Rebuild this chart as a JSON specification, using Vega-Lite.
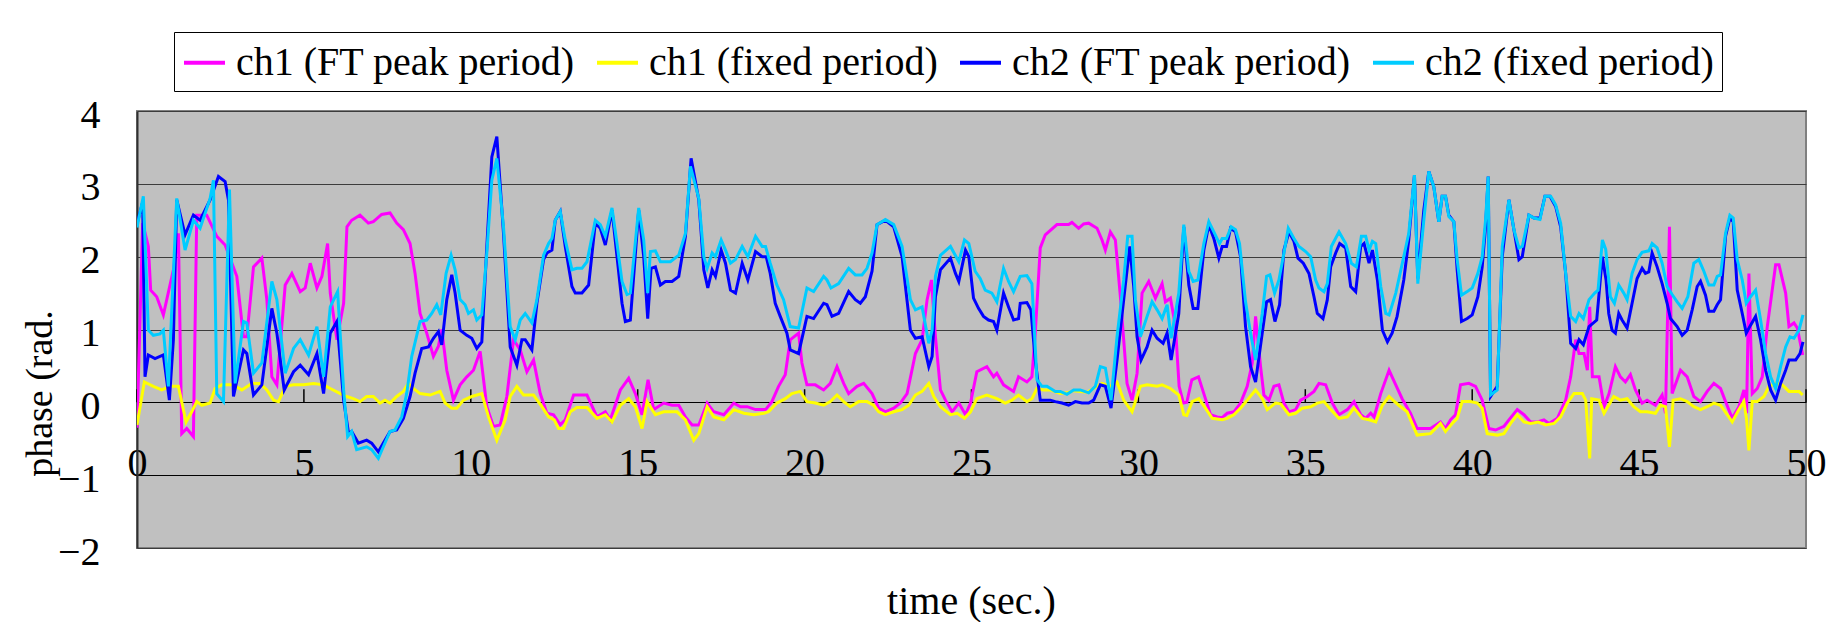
{
"$schema":"https://vega.github.io/schema/vega-lite/v6.json",
"autosize":"none",
"width":1669,"height":437,
"padding":{"left":137,"top":111,"right":32,"bottom":74},
"background":"white",
"config":{"view":{"fill":"#C0C0C0","stroke":"#808080","strokeWidth":2}},
"datasets":{
"a":[{"t":0,"v":-0.35},{"t":0.17,"v":2.46},{"t":0.34,"v":2.14},{"t":0.41,"v":1.54},{"t":0.59,"v":1.45},{"t":0.79,"v":1.2},{"t":1.09,"v":1.82},{"t":1.24,"v":2.32},{"t":1.34,"v":-0.43},{"t":1.49,"v":-0.36},{"t":1.69,"v":-0.47},{"t":1.79,"v":2.57},{"t":2.09,"v":2.57},{"t":2.39,"v":2.28},{"t":2.64,"v":2.16},{"t":2.99,"v":1.73},{"t":3.19,"v":0.9},{"t":3.29,"v":0.9},{"t":3.49,"v":1.86},{"t":3.74,"v":1.98},{"t":3.89,"v":1.41},{"t":4.04,"v":0.35},{"t":4.19,"v":0.24},{"t":4.44,"v":1.61},{"t":4.64,"v":1.77},{"t":4.89,"v":1.52},{"t":5.04,"v":1.57},{"t":5.19,"v":1.91},{"t":5.39,"v":1.57},{"t":5.54,"v":1.73},{"t":5.71,"v":2.18},{"t":5.79,"v":1.5},{"t":5.99,"v":0.86},{"t":6.19,"v":1.36},{"t":6.29,"v":2.41},{"t":6.43,"v":2.5},{"t":6.68,"v":2.57},{"t":6.93,"v":2.46},{"t":7.08,"v":2.48},{"t":7.33,"v":2.58},{"t":7.58,"v":2.6},{"t":7.78,"v":2.46},{"t":7.98,"v":2.37},{"t":8.18,"v":2.18},{"t":8.33,"v":1.77},{"t":8.48,"v":1.22},{"t":8.68,"v":0.95},{"t":8.88,"v":0.63},{"t":9.03,"v":0.77},{"t":9.13,"v":1.0},{"t":9.28,"v":0.44},{"t":9.48,"v":0.03},{"t":9.68,"v":0.24},{"t":9.88,"v":0.35},{"t":10.08,"v":0.44},{"t":10.28,"v":0.7},{"t":10.48,"v":-0.06},{"t":10.68,"v":-0.33},{"t":10.88,"v":-0.31},{"t":11.08,"v":0.08},{"t":11.28,"v":0.86},{"t":11.48,"v":0.72},{"t":11.68,"v":0.42},{"t":11.88,"v":0.58},{"t":12.08,"v":0.12},{"t":12.28,"v":-0.15},{"t":12.48,"v":-0.17},{"t":12.68,"v":-0.31},{"t":12.83,"v":-0.24},{"t":13.08,"v":0.1},{"t":13.48,"v":0.1},{"t":13.78,"v":-0.2},{"t":14.03,"v":-0.13},{"t":14.18,"v":-0.24},{"t":14.48,"v":0.17},{"t":14.73,"v":0.33},{"t":14.93,"v":0.12},{"t":15.13,"v":-0.17},{"t":15.31,"v":0.31},{"t":15.48,"v":-0.1},{"t":15.78,"v":-0.01},{"t":16.03,"v":-0.04},{"t":16.23,"v":-0.04},{"t":16.43,"v":-0.2},{"t":16.63,"v":-0.31},{"t":16.83,"v":-0.31},{"t":17.08,"v":-0.01},{"t":17.28,"v":-0.13},{"t":17.58,"v":-0.17},{"t":17.88,"v":-0.01},{"t":18.08,"v":-0.06},{"t":18.28,"v":-0.06},{"t":18.53,"v":-0.1},{"t":18.83,"v":-0.1},{"t":19.02,"v":0.01},{"t":19.22,"v":0.22},{"t":19.42,"v":0.38},{"t":19.57,"v":0.86},{"t":19.82,"v":0.95},{"t":19.92,"v":0.54},{"t":20.07,"v":0.24},{"t":20.32,"v":0.24},{"t":20.57,"v":0.17},{"t":20.77,"v":0.26},{"t":20.97,"v":0.49},{"t":21.17,"v":0.26},{"t":21.32,"v":0.12},{"t":21.57,"v":0.22},{"t":21.77,"v":0.26},{"t":22.02,"v":0.12},{"t":22.22,"v":-0.08},{"t":22.42,"v":-0.13},{"t":22.67,"v":-0.08},{"t":22.87,"v":-0.01},{"t":23.07,"v":0.12},{"t":23.32,"v":0.67},{"t":23.52,"v":0.86},{"t":23.67,"v":1.41},{"t":23.8,"v":1.68},{"t":23.92,"v":0.9},{"t":24.07,"v":0.17},{"t":24.22,"v":0.03},{"t":24.42,"v":-0.13},{"t":24.62,"v":-0.01},{"t":24.82,"v":-0.17},{"t":24.97,"v":-0.01},{"t":25.16,"v":0.42},{"t":25.46,"v":0.49},{"t":25.66,"v":0.35},{"t":25.76,"v":0.4},{"t":25.96,"v":0.24},{"t":26.26,"v":0.15},{"t":26.41,"v":0.35},{"t":26.66,"v":0.28},{"t":26.81,"v":0.35},{"t":26.91,"v":0.95},{"t":27.06,"v":2.12},{"t":27.21,"v":2.3},{"t":27.56,"v":2.44},{"t":27.91,"v":2.44},{"t":28.01,"v":2.47},{"t":28.21,"v":2.39},{"t":28.36,"v":2.45},{"t":28.51,"v":2.46},{"t":28.76,"v":2.39},{"t":28.91,"v":2.23},{"t":29.01,"v":2.09},{"t":29.16,"v":2.34},{"t":29.31,"v":2.23},{"t":29.46,"v":1.45},{"t":29.66,"v":0.26},{"t":29.81,"v":0.03},{"t":29.96,"v":0.4},{"t":30.11,"v":1.5},{"t":30.31,"v":1.66},{"t":30.51,"v":1.43},{"t":30.71,"v":1.63},{"t":30.81,"v":1.38},{"t":30.96,"v":1.43},{"t":31.11,"v":1.04},{"t":31.22,"v":0.22},{"t":31.35,"v":-0.01},{"t":31.45,"v":0.0},{"t":31.6,"v":0.31},{"t":31.8,"v":0.35},{"t":31.96,"v":0.12},{"t":32.16,"v":-0.17},{"t":32.36,"v":-0.2},{"t":32.51,"v":-0.21},{"t":32.66,"v":-0.15},{"t":32.86,"v":-0.13},{"t":33.06,"v":-0.01},{"t":33.26,"v":0.22},{"t":33.41,"v":0.54},{"t":33.51,"v":1.18},{"t":33.66,"v":0.49},{"t":33.76,"v":0.1},{"t":33.91,"v":0.03},{"t":34.06,"v":0.22},{"t":34.21,"v":0.24},{"t":34.36,"v":-0.01},{"t":34.51,"v":-0.13},{"t":34.71,"v":-0.1},{"t":34.86,"v":0.03},{"t":35.06,"v":0.08},{"t":35.26,"v":0.15},{"t":35.41,"v":0.26},{"t":35.61,"v":0.24},{"t":35.81,"v":-0.01},{"t":36.01,"v":-0.17},{"t":36.26,"v":-0.1},{"t":36.46,"v":0.01},{"t":36.66,"v":-0.17},{"t":36.81,"v":-0.22},{"t":36.96,"v":-0.15},{"t":37.06,"v":-0.2},{"t":37.26,"v":0.12},{"t":37.51,"v":0.44},{"t":37.71,"v":0.24},{"t":37.9,"v":0.05},{"t":38.15,"v":-0.15},{"t":38.35,"v":-0.36},{"t":38.75,"v":-0.36},{"t":39.05,"v":-0.27},{"t":39.2,"v":-0.36},{"t":39.35,"v":-0.24},{"t":39.5,"v":-0.17},{"t":39.65,"v":0.24},{"t":39.9,"v":0.26},{"t":40.1,"v":0.22},{"t":40.3,"v":0.03},{"t":40.5,"v":-0.36},{"t":40.7,"v":-0.38},{"t":40.95,"v":-0.33},{"t":41.1,"v":-0.24},{"t":41.35,"v":-0.1},{"t":41.55,"v":-0.17},{"t":41.75,"v":-0.27},{"t":41.95,"v":-0.27},{"t":42.15,"v":-0.24},{"t":42.3,"v":-0.29},{"t":42.55,"v":-0.22},{"t":42.8,"v":0.03},{"t":42.95,"v":0.35},{"t":43.1,"v":0.86},{"t":43.2,"v":0.67},{"t":43.35,"v":0.67},{"t":43.45,"v":0.44},{"t":43.52,"v":1.31},{"t":43.6,"v":0.35},{"t":43.8,"v":0.35},{"t":43.95,"v":-0.06},{"t":44.1,"v":0.12},{"t":44.29,"v":0.49},{"t":44.44,"v":0.35},{"t":44.59,"v":0.28},{"t":44.74,"v":0.38},{"t":44.89,"v":0.17},{"t":45.09,"v":-0.01},{"t":45.24,"v":0.03},{"t":45.49,"v":-0.04},{"t":45.69,"v":0.1},{"t":45.79,"v":-0.15},{"t":45.91,"v":2.41},{"t":45.99,"v":0.12},{"t":46.24,"v":0.44},{"t":46.44,"v":0.35},{"t":46.64,"v":0.08},{"t":46.84,"v":0.01},{"t":47.04,"v":0.15},{"t":47.24,"v":0.26},{"t":47.44,"v":0.19},{"t":47.59,"v":0.01},{"t":47.79,"v":-0.22},{"t":47.99,"v":-0.06},{"t":48.14,"v":0.17},{"t":48.22,"v":-0.15},{"t":48.29,"v":1.77},{"t":48.39,"v":0.12},{"t":48.54,"v":0.19},{"t":48.69,"v":0.35},{"t":48.84,"v":1.04},{"t":49.09,"v":1.89},{"t":49.19,"v":1.89},{"t":49.39,"v":1.5},{"t":49.49,"v":1.04},{"t":49.64,"v":1.09},{"t":49.74,"v":1.02},{"t":49.9,"v":0.65}],
"b":[{"t":0,"v":-0.31},{"t":0.22,"v":0.28},{"t":0.49,"v":0.22},{"t":0.74,"v":0.17},{"t":0.99,"v":0.22},{"t":1.24,"v":0.22},{"t":1.47,"v":-0.27},{"t":1.64,"v":-0.13},{"t":1.79,"v":0.01},{"t":1.94,"v":-0.04},{"t":2.19,"v":-0.01},{"t":2.34,"v":0.19},{"t":2.54,"v":0.24},{"t":2.89,"v":0.24},{"t":3.14,"v":0.17},{"t":3.44,"v":0.26},{"t":3.69,"v":0.26},{"t":3.89,"v":0.17},{"t":4.09,"v":0.03},{"t":4.24,"v":0.01},{"t":4.44,"v":0.22},{"t":4.69,"v":0.24},{"t":4.99,"v":0.24},{"t":5.29,"v":0.26},{"t":5.59,"v":0.24},{"t":5.79,"v":0.19},{"t":6.09,"v":0.12},{"t":6.28,"v":0.08},{"t":6.48,"v":0.05},{"t":6.68,"v":0.01},{"t":6.88,"v":0.08},{"t":7.08,"v":0.08},{"t":7.28,"v":-0.01},{"t":7.43,"v":0.03},{"t":7.58,"v":-0.01},{"t":7.78,"v":0.08},{"t":7.98,"v":0.15},{"t":8.13,"v":0.26},{"t":8.28,"v":0.19},{"t":8.48,"v":0.12},{"t":8.78,"v":0.1},{"t":9.08,"v":0.15},{"t":9.23,"v":-0.01},{"t":9.43,"v":-0.08},{"t":9.58,"v":-0.08},{"t":9.78,"v":0.03},{"t":10.03,"v":0.08},{"t":10.33,"v":0.12},{"t":10.53,"v":-0.2},{"t":10.78,"v":-0.52},{"t":11.03,"v":-0.24},{"t":11.18,"v":0.08},{"t":11.38,"v":0.22},{"t":11.58,"v":0.1},{"t":11.88,"v":0.1},{"t":12.13,"v":-0.06},{"t":12.33,"v":-0.2},{"t":12.5,"v":-0.24},{"t":12.63,"v":-0.36},{"t":12.78,"v":-0.36},{"t":12.98,"v":-0.13},{"t":13.18,"v":-0.07},{"t":13.48,"v":-0.07},{"t":13.78,"v":-0.22},{"t":14.03,"v":-0.17},{"t":14.23,"v":-0.27},{"t":14.48,"v":-0.04},{"t":14.73,"v":0.05},{"t":14.93,"v":-0.06},{"t":15.13,"v":-0.36},{"t":15.28,"v":0.01},{"t":15.53,"v":-0.17},{"t":15.78,"v":-0.13},{"t":16.18,"v":-0.13},{"t":16.43,"v":-0.24},{"t":16.68,"v":-0.52},{"t":16.83,"v":-0.43},{"t":17.08,"v":-0.06},{"t":17.28,"v":-0.2},{"t":17.58,"v":-0.24},{"t":17.88,"v":-0.1},{"t":18.18,"v":-0.15},{"t":18.48,"v":-0.17},{"t":18.78,"v":-0.15},{"t":18.92,"v":-0.13},{"t":19.17,"v":-0.01},{"t":19.42,"v":0.05},{"t":19.62,"v":0.12},{"t":19.87,"v":0.15},{"t":20.07,"v":0.01},{"t":20.32,"v":-0.01},{"t":20.57,"v":-0.04},{"t":20.77,"v":0.01},{"t":20.97,"v":0.1},{"t":21.17,"v":0.01},{"t":21.37,"v":-0.06},{"t":21.62,"v":0.01},{"t":21.87,"v":0.01},{"t":22.07,"v":-0.04},{"t":22.22,"v":-0.13},{"t":22.42,"v":-0.17},{"t":22.67,"v":-0.13},{"t":22.92,"v":-0.1},{"t":23.12,"v":-0.04},{"t":23.32,"v":0.1},{"t":23.52,"v":0.15},{"t":23.72,"v":0.26},{"t":23.87,"v":0.08},{"t":24.07,"v":-0.06},{"t":24.37,"v":-0.17},{"t":24.57,"v":-0.15},{"t":24.79,"v":-0.22},{"t":24.97,"v":-0.13},{"t":25.16,"v":0.05},{"t":25.46,"v":0.1},{"t":25.76,"v":0.05},{"t":26.01,"v":-0.01},{"t":26.21,"v":0.03},{"t":26.41,"v":0.1},{"t":26.66,"v":0.01},{"t":26.81,"v":0.05},{"t":26.96,"v":0.19},{"t":27.16,"v":0.17},{"t":27.36,"v":0.17},{"t":27.66,"v":0.12},{"t":27.86,"v":0.13},{"t":28.06,"v":0.16},{"t":28.26,"v":0.15},{"t":28.46,"v":0.14},{"t":28.66,"v":0.19},{"t":28.91,"v":0.26},{"t":29.16,"v":0.22},{"t":29.36,"v":0.28},{"t":29.56,"v":0.03},{"t":29.81,"v":-0.13},{"t":30.06,"v":0.22},{"t":30.26,"v":0.24},{"t":30.56,"v":0.22},{"t":30.71,"v":0.24},{"t":30.96,"v":0.19},{"t":31.21,"v":0.1},{"t":31.36,"v":-0.17},{"t":31.45,"v":-0.18},{"t":31.61,"v":0.01},{"t":31.81,"v":0.05},{"t":32.01,"v":-0.08},{"t":32.21,"v":-0.22},{"t":32.51,"v":-0.24},{"t":32.66,"v":-0.22},{"t":32.86,"v":-0.17},{"t":33.06,"v":-0.08},{"t":33.26,"v":0.03},{"t":33.51,"v":0.17},{"t":33.71,"v":0.05},{"t":33.86,"v":-0.1},{"t":34.11,"v":-0.01},{"t":34.26,"v":-0.02},{"t":34.51,"v":-0.17},{"t":34.71,"v":-0.15},{"t":34.91,"v":-0.08},{"t":35.16,"v":-0.06},{"t":35.36,"v":-0.01},{"t":35.56,"v":0.01},{"t":35.76,"v":-0.1},{"t":36.01,"v":-0.22},{"t":36.26,"v":-0.2},{"t":36.46,"v":-0.08},{"t":36.71,"v":-0.22},{"t":36.91,"v":-0.24},{"t":37.11,"v":-0.27},{"t":37.31,"v":-0.04},{"t":37.51,"v":0.08},{"t":37.65,"v":0.02},{"t":37.8,"v":-0.04},{"t":38.05,"v":-0.13},{"t":38.35,"v":-0.45},{"t":38.75,"v":-0.43},{"t":39.05,"v":-0.29},{"t":39.2,"v":-0.4},{"t":39.4,"v":-0.29},{"t":39.55,"v":-0.22},{"t":39.7,"v":0.01},{"t":39.95,"v":0.01},{"t":40.15,"v":-0.01},{"t":40.3,"v":-0.08},{"t":40.45,"v":-0.43},{"t":40.75,"v":-0.45},{"t":40.95,"v":-0.43},{"t":41.15,"v":-0.29},{"t":41.35,"v":-0.17},{"t":41.55,"v":-0.27},{"t":41.75,"v":-0.29},{"t":41.98,"v":-0.27},{"t":42.2,"v":-0.31},{"t":42.45,"v":-0.29},{"t":42.65,"v":-0.2},{"t":42.85,"v":-0.01},{"t":43.05,"v":0.12},{"t":43.3,"v":0.12},{"t":43.4,"v":0.03},{"t":43.52,"v":-0.77},{"t":43.58,"v":0.05},{"t":43.8,"v":0.03},{"t":43.95,"v":-0.15},{"t":44.24,"v":0.08},{"t":44.44,"v":0.03},{"t":44.64,"v":0.05},{"t":44.84,"v":-0.06},{"t":45.04,"v":-0.13},{"t":45.24,"v":-0.13},{"t":45.49,"v":-0.15},{"t":45.64,"v":-0.04},{"t":45.79,"v":-0.06},{"t":45.91,"v":-0.61},{"t":46.02,"v":0.03},{"t":46.24,"v":0.05},{"t":46.44,"v":0.01},{"t":46.64,"v":-0.06},{"t":46.84,"v":-0.1},{"t":47.04,"v":-0.06},{"t":47.24,"v":-0.01},{"t":47.44,"v":-0.04},{"t":47.64,"v":-0.17},{"t":47.79,"v":-0.27},{"t":47.99,"v":-0.1},{"t":48.14,"v":0.01},{"t":48.22,"v":-0.24},{"t":48.29,"v":-0.66},{"t":48.39,"v":0.01},{"t":48.54,"v":0.01},{"t":48.74,"v":0.08},{"t":48.89,"v":0.22},{"t":49.09,"v":0.26},{"t":49.29,"v":0.24},{"t":49.49,"v":0.15},{"t":49.64,"v":0.15},{"t":49.79,"v":0.15},{"t":49.9,"v":0.1}],
"c":[{"t":0,"v":2.45},{"t":0.17,"v":2.75},{"t":0.24,"v":0.35},{"t":0.34,"v":0.65},{"t":0.54,"v":0.6},{"t":0.79,"v":0.65},{"t":0.97,"v":0.03},{"t":1.09,"v":0.86},{"t":1.19,"v":2.78},{"t":1.44,"v":2.3},{"t":1.69,"v":2.57},{"t":1.89,"v":2.5},{"t":2.19,"v":2.78},{"t":2.44,"v":3.1},{"t":2.64,"v":3.03},{"t":2.74,"v":2.78},{"t":2.89,"v":0.08},{"t":3.19,"v":0.72},{"t":3.29,"v":0.67},{"t":3.49,"v":0.1},{"t":3.74,"v":0.24},{"t":4.04,"v":1.29},{"t":4.19,"v":0.95},{"t":4.41,"v":0.17},{"t":4.69,"v":0.42},{"t":4.89,"v":0.51},{"t":5.14,"v":0.38},{"t":5.39,"v":0.67},{"t":5.59,"v":0.12},{"t":5.79,"v":0.95},{"t":5.99,"v":1.11},{"t":6.19,"v":0.03},{"t":6.34,"v":-0.43},{"t":6.43,"v":-0.4},{"t":6.63,"v":-0.56},{"t":6.88,"v":-0.52},{"t":7.03,"v":-0.56},{"t":7.23,"v":-0.68},{"t":7.38,"v":-0.56},{"t":7.58,"v":-0.4},{"t":7.78,"v":-0.38},{"t":7.98,"v":-0.22},{"t":8.18,"v":0.08},{"t":8.33,"v":0.4},{"t":8.53,"v":0.74},{"t":8.73,"v":0.76},{"t":8.88,"v":0.88},{"t":9.03,"v":0.97},{"t":9.13,"v":0.79},{"t":9.28,"v":1.41},{"t":9.43,"v":1.75},{"t":9.53,"v":1.5},{"t":9.68,"v":0.99},{"t":9.88,"v":0.92},{"t":10.03,"v":0.88},{"t":10.18,"v":0.74},{"t":10.33,"v":0.83},{"t":10.48,"v":2.14},{"t":10.63,"v":3.37},{"t":10.78,"v":3.65},{"t":10.98,"v":2.32},{"t":11.18,"v":0.76},{"t":11.38,"v":0.51},{"t":11.53,"v":0.86},{"t":11.63,"v":0.86},{"t":11.83,"v":0.72},{"t":11.98,"v":1.36},{"t":12.18,"v":1.96},{"t":12.28,"v":2.05},{"t":12.43,"v":2.09},{"t":12.53,"v":2.5},{"t":12.68,"v":2.62},{"t":12.83,"v":2.14},{"t":13.03,"v":1.59},{"t":13.13,"v":1.5},{"t":13.33,"v":1.5},{"t":13.53,"v":1.61},{"t":13.73,"v":2.46},{"t":13.88,"v":2.39},{"t":14.03,"v":2.16},{"t":14.23,"v":2.64},{"t":14.38,"v":2.0},{"t":14.53,"v":1.36},{"t":14.63,"v":1.11},{"t":14.78,"v":1.13},{"t":15.03,"v":2.64},{"t":15.18,"v":2.0},{"t":15.3,"v":1.15},{"t":15.4,"v":1.84},{"t":15.53,"v":1.86},{"t":15.68,"v":1.61},{"t":15.83,"v":1.66},{"t":16.03,"v":1.66},{"t":16.23,"v":1.73},{"t":16.43,"v":2.28},{"t":16.6,"v":3.35},{"t":16.83,"v":2.78},{"t":16.98,"v":1.82},{"t":17.1,"v":1.57},{"t":17.23,"v":1.82},{"t":17.33,"v":1.73},{"t":17.5,"v":2.09},{"t":17.63,"v":1.91},{"t":17.78,"v":1.54},{"t":17.93,"v":1.5},{"t":18.13,"v":1.91},{"t":18.3,"v":1.68},{"t":18.53,"v":2.07},{"t":18.73,"v":2.0},{"t":18.85,"v":2.0},{"t":18.97,"v":1.77},{"t":19.12,"v":1.36},{"t":19.27,"v":1.18},{"t":19.47,"v":0.95},{"t":19.57,"v":0.72},{"t":19.82,"v":0.67},{"t":20.07,"v":1.18},{"t":20.27,"v":1.15},{"t":20.57,"v":1.36},{"t":20.67,"v":1.34},{"t":20.82,"v":1.18},{"t":21.02,"v":1.22},{"t":21.32,"v":1.52},{"t":21.52,"v":1.41},{"t":21.67,"v":1.36},{"t":21.82,"v":1.45},{"t":22.02,"v":1.8},{"t":22.17,"v":2.44},{"t":22.42,"v":2.5},{"t":22.67,"v":2.41},{"t":22.92,"v":2.0},{"t":23.17,"v":0.99},{"t":23.32,"v":0.88},{"t":23.52,"v":0.9},{"t":23.72,"v":0.49},{"t":23.82,"v":0.63},{"t":23.92,"v":1.45},{"t":24.07,"v":1.82},{"t":24.37,"v":1.98},{"t":24.52,"v":1.77},{"t":24.62,"v":1.66},{"t":24.82,"v":2.09},{"t":24.92,"v":2.0},{"t":25.06,"v":1.43},{"t":25.21,"v":1.29},{"t":25.36,"v":1.18},{"t":25.51,"v":1.13},{"t":25.66,"v":1.11},{"t":25.76,"v":0.99},{"t":25.96,"v":1.5},{"t":26.11,"v":1.31},{"t":26.26,"v":1.13},{"t":26.41,"v":1.15},{"t":26.46,"v":1.36},{"t":26.66,"v":1.37},{"t":26.78,"v":1.27},{"t":26.91,"v":0.58},{"t":27.06,"v":0.03},{"t":27.36,"v":0.03},{"t":27.51,"v":0.01},{"t":27.71,"v":-0.01},{"t":27.91,"v":-0.04},{"t":28.11,"v":0.01},{"t":28.31,"v":-0.01},{"t":28.51,"v":-0.01},{"t":28.66,"v":0.03},{"t":28.86,"v":0.24},{"t":29.01,"v":0.22},{"t":29.18,"v":-0.08},{"t":29.36,"v":0.58},{"t":29.56,"v":1.41},{"t":29.74,"v":2.14},{"t":29.86,"v":1.59},{"t":29.96,"v":0.9},{"t":30.08,"v":0.58},{"t":30.26,"v":0.76},{"t":30.41,"v":0.99},{"t":30.56,"v":0.88},{"t":30.74,"v":0.81},{"t":30.86,"v":0.95},{"t":30.98,"v":0.58},{"t":31.21,"v":1.22},{"t":31.36,"v":2.41},{"t":31.51,"v":1.61},{"t":31.64,"v":1.29},{"t":31.78,"v":1.29},{"t":31.96,"v":2.09},{"t":32.11,"v":2.44},{"t":32.26,"v":2.25},{"t":32.41,"v":1.98},{"t":32.51,"v":2.14},{"t":32.64,"v":2.14},{"t":32.76,"v":2.39},{"t":32.91,"v":2.34},{"t":33.06,"v":2.0},{"t":33.21,"v":1.04},{"t":33.36,"v":0.49},{"t":33.51,"v":0.28},{"t":33.71,"v":0.95},{"t":33.84,"v":1.38},{"t":33.96,"v":1.41},{"t":34.09,"v":1.11},{"t":34.23,"v":1.34},{"t":34.36,"v":2.09},{"t":34.51,"v":2.34},{"t":34.66,"v":2.21},{"t":34.78,"v":1.98},{"t":34.94,"v":1.91},{"t":35.11,"v":1.77},{"t":35.26,"v":1.45},{"t":35.36,"v":1.22},{"t":35.53,"v":1.15},{"t":35.66,"v":1.41},{"t":35.76,"v":1.86},{"t":35.91,"v":2.05},{"t":36.03,"v":2.18},{"t":36.21,"v":2.12},{"t":36.36,"v":1.59},{"t":36.51,"v":1.52},{"t":36.66,"v":2.14},{"t":36.76,"v":2.18},{"t":36.91,"v":1.91},{"t":37.01,"v":2.09},{"t":37.16,"v":1.68},{"t":37.31,"v":0.99},{"t":37.46,"v":0.83},{"t":37.6,"v":0.95},{"t":37.75,"v":1.18},{"t":37.95,"v":1.68},{"t":38.1,"v":2.23},{"t":38.27,"v":3.12},{"t":38.37,"v":1.7},{"t":38.55,"v":2.64},{"t":38.7,"v":3.17},{"t":38.85,"v":2.96},{"t":39.0,"v":2.48},{"t":39.1,"v":2.83},{"t":39.2,"v":2.83},{"t":39.3,"v":2.57},{"t":39.45,"v":2.48},{"t":39.55,"v":1.82},{"t":39.68,"v":1.11},{"t":39.85,"v":1.15},{"t":40.0,"v":1.2},{"t":40.17,"v":1.45},{"t":40.3,"v":1.86},{"t":40.4,"v":2.41},{"t":40.48,"v":3.1},{"t":40.55,"v":0.08},{"t":40.75,"v":0.22},{"t":40.9,"v":2.0},{"t":41.1,"v":2.78},{"t":41.25,"v":2.37},{"t":41.4,"v":1.96},{"t":41.5,"v":2.0},{"t":41.7,"v":2.57},{"t":41.85,"v":2.53},{"t":42.03,"v":2.53},{"t":42.18,"v":2.83},{"t":42.33,"v":2.83},{"t":42.5,"v":2.69},{"t":42.65,"v":2.41},{"t":42.8,"v":1.77},{"t":42.95,"v":0.81},{"t":43.1,"v":0.74},{"t":43.2,"v":0.86},{"t":43.33,"v":0.79},{"t":43.5,"v":1.04},{"t":43.73,"v":1.13},{"t":43.9,"v":2.0},{"t":44.01,"v":1.68},{"t":44.09,"v":1.22},{"t":44.19,"v":0.99},{"t":44.29,"v":0.95},{"t":44.39,"v":1.22},{"t":44.49,"v":1.13},{"t":44.64,"v":1.02},{"t":44.79,"v":1.36},{"t":44.94,"v":1.7},{"t":45.09,"v":1.84},{"t":45.19,"v":1.77},{"t":45.29,"v":1.79},{"t":45.39,"v":2.05},{"t":45.54,"v":1.86},{"t":45.69,"v":1.63},{"t":45.84,"v":1.36},{"t":45.94,"v":1.15},{"t":46.14,"v":1.04},{"t":46.29,"v":0.92},{"t":46.44,"v":0.99},{"t":46.59,"v":1.27},{"t":46.74,"v":1.59},{"t":46.84,"v":1.66},{"t":46.99,"v":1.47},{"t":47.09,"v":1.25},{"t":47.24,"v":1.25},{"t":47.34,"v":1.34},{"t":47.44,"v":1.41},{"t":47.59,"v":2.28},{"t":47.72,"v":2.53},{"t":47.82,"v":2.48},{"t":47.94,"v":1.54},{"t":48.09,"v":1.22},{"t":48.21,"v":0.95},{"t":48.34,"v":1.06},{"t":48.49,"v":1.18},{"t":48.64,"v":0.86},{"t":48.79,"v":0.44},{"t":48.94,"v":0.17},{"t":49.09,"v":0.03},{"t":49.24,"v":0.26},{"t":49.39,"v":0.44},{"t":49.49,"v":0.58},{"t":49.69,"v":0.58},{"t":49.82,"v":0.67},{"t":49.91,"v":0.83}],
"d":[{"t":0,"v":2.4},{"t":0.19,"v":2.83},{"t":0.34,"v":0.99},{"t":0.49,"v":0.92},{"t":0.69,"v":0.94},{"t":0.79,"v":0.99},{"t":0.94,"v":0.22},{"t":1.19,"v":2.8},{"t":1.44,"v":2.09},{"t":1.69,"v":2.5},{"t":1.89,"v":2.39},{"t":2.19,"v":2.8},{"t":2.29,"v":3.05},{"t":2.39,"v":0.12},{"t":2.59,"v":0.01},{"t":2.77,"v":2.92},{"t":2.94,"v":0.26},{"t":3.19,"v":1.11},{"t":3.29,"v":1.09},{"t":3.49,"v":0.4},{"t":3.74,"v":0.54},{"t":4.04,"v":1.66},{"t":4.19,"v":1.41},{"t":4.44,"v":0.4},{"t":4.69,"v":0.74},{"t":4.89,"v":0.86},{"t":5.14,"v":0.65},{"t":5.39,"v":1.04},{"t":5.59,"v":0.35},{"t":5.79,"v":1.31},{"t":6.01,"v":1.52},{"t":6.19,"v":0.17},{"t":6.31,"v":-0.47},{"t":6.43,"v":-0.4},{"t":6.58,"v":-0.65},{"t":6.88,"v":-0.61},{"t":7.03,"v":-0.65},{"t":7.23,"v":-0.77},{"t":7.38,"v":-0.61},{"t":7.58,"v":-0.4},{"t":7.73,"v":-0.38},{"t":7.93,"v":-0.2},{"t":8.08,"v":0.12},{"t":8.23,"v":0.63},{"t":8.48,"v":1.11},{"t":8.68,"v":1.13},{"t":8.83,"v":1.22},{"t":8.98,"v":1.34},{"t":9.1,"v":1.2},{"t":9.26,"v":1.77},{"t":9.41,"v":2.02},{"t":9.53,"v":1.82},{"t":9.68,"v":1.41},{"t":9.83,"v":1.34},{"t":9.93,"v":1.22},{"t":10.08,"v":1.27},{"t":10.18,"v":1.13},{"t":10.33,"v":1.2},{"t":10.48,"v":2.05},{"t":10.63,"v":3.05},{"t":10.78,"v":3.35},{"t":10.98,"v":2.41},{"t":11.18,"v":1.04},{"t":11.33,"v":0.86},{"t":11.48,"v":1.13},{"t":11.63,"v":1.22},{"t":11.83,"v":1.09},{"t":11.98,"v":1.41},{"t":12.18,"v":2.02},{"t":12.33,"v":2.18},{"t":12.43,"v":2.25},{"t":12.53,"v":2.5},{"t":12.68,"v":2.62},{"t":12.83,"v":2.23},{"t":13.03,"v":1.82},{"t":13.18,"v":1.84},{"t":13.33,"v":1.84},{"t":13.48,"v":1.93},{"t":13.73,"v":2.5},{"t":13.88,"v":2.44},{"t":14.03,"v":2.28},{"t":14.23,"v":2.67},{"t":14.38,"v":2.18},{"t":14.53,"v":1.66},{"t":14.68,"v":1.48},{"t":14.78,"v":1.5},{"t":15.03,"v":2.67},{"t":15.18,"v":2.23},{"t":15.3,"v":1.5},{"t":15.38,"v":2.07},{"t":15.53,"v":2.08},{"t":15.68,"v":1.93},{"t":15.98,"v":1.93},{"t":16.23,"v":2.02},{"t":16.43,"v":2.32},{"t":16.58,"v":3.24},{"t":16.83,"v":2.8},{"t":16.98,"v":2.0},{"t":17.08,"v":1.84},{"t":17.23,"v":2.05},{"t":17.33,"v":2.0},{"t":17.5,"v":2.23},{"t":17.63,"v":2.09},{"t":17.78,"v":1.91},{"t":17.93,"v":1.96},{"t":18.13,"v":2.14},{"t":18.3,"v":2.0},{"t":18.53,"v":2.28},{"t":18.73,"v":2.14},{"t":18.83,"v":2.14},{"t":18.97,"v":1.91},{"t":19.17,"v":1.61},{"t":19.37,"v":1.41},{"t":19.57,"v":1.04},{"t":19.82,"v":1.02},{"t":20.07,"v":1.57},{"t":20.27,"v":1.52},{"t":20.57,"v":1.73},{"t":20.67,"v":1.68},{"t":20.79,"v":1.57},{"t":21.02,"v":1.63},{"t":21.32,"v":1.84},{"t":21.52,"v":1.75},{"t":21.72,"v":1.75},{"t":21.87,"v":1.84},{"t":22.02,"v":2.05},{"t":22.17,"v":2.44},{"t":22.42,"v":2.51},{"t":22.67,"v":2.44},{"t":22.92,"v":2.14},{"t":23.17,"v":1.41},{"t":23.32,"v":1.27},{"t":23.52,"v":1.31},{"t":23.72,"v":0.81},{"t":23.82,"v":0.99},{"t":23.92,"v":1.73},{"t":24.07,"v":2.02},{"t":24.37,"v":2.14},{"t":24.62,"v":1.93},{"t":24.79,"v":2.23},{"t":24.92,"v":2.18},{"t":25.11,"v":1.8},{"t":25.26,"v":1.7},{"t":25.41,"v":1.54},{"t":25.61,"v":1.5},{"t":25.76,"v":1.38},{"t":25.96,"v":1.84},{"t":26.11,"v":1.66},{"t":26.26,"v":1.52},{"t":26.46,"v":1.73},{"t":26.66,"v":1.74},{"t":26.81,"v":1.63},{"t":26.96,"v":0.31},{"t":27.11,"v":0.22},{"t":27.26,"v":0.22},{"t":27.51,"v":0.15},{"t":27.66,"v":0.15},{"t":27.86,"v":0.11},{"t":28.06,"v":0.17},{"t":28.26,"v":0.17},{"t":28.51,"v":0.13},{"t":28.71,"v":0.22},{"t":28.86,"v":0.49},{"t":29.01,"v":0.47},{"t":29.18,"v":0.03},{"t":29.36,"v":0.9},{"t":29.56,"v":1.68},{"t":29.68,"v":2.28},{"t":29.81,"v":2.28},{"t":29.91,"v":1.41},{"t":30.06,"v":0.9},{"t":30.26,"v":1.18},{"t":30.41,"v":1.38},{"t":30.56,"v":1.27},{"t":30.71,"v":1.15},{"t":30.86,"v":1.34},{"t":30.98,"v":0.88},{"t":31.21,"v":1.5},{"t":31.36,"v":2.44},{"t":31.51,"v":1.8},{"t":31.64,"v":1.66},{"t":31.78,"v":1.68},{"t":31.96,"v":2.18},{"t":32.11,"v":2.48},{"t":32.26,"v":2.34},{"t":32.43,"v":2.18},{"t":32.51,"v":2.25},{"t":32.64,"v":2.25},{"t":32.78,"v":2.41},{"t":32.91,"v":2.37},{"t":33.03,"v":2.18},{"t":33.21,"v":1.38},{"t":33.36,"v":0.95},{"t":33.51,"v":0.58},{"t":33.71,"v":1.22},{"t":33.84,"v":1.73},{"t":33.94,"v":1.75},{"t":34.08,"v":1.5},{"t":34.21,"v":1.68},{"t":34.36,"v":2.05},{"t":34.49,"v":2.39},{"t":34.66,"v":2.25},{"t":34.81,"v":2.14},{"t":35.01,"v":2.07},{"t":35.16,"v":2.0},{"t":35.31,"v":1.68},{"t":35.41,"v":1.57},{"t":35.56,"v":1.52},{"t":35.66,"v":1.63},{"t":35.78,"v":2.14},{"t":36.01,"v":2.34},{"t":36.21,"v":2.18},{"t":36.38,"v":1.91},{"t":36.53,"v":1.86},{"t":36.68,"v":2.28},{"t":36.81,"v":2.28},{"t":36.91,"v":2.09},{"t":37.01,"v":2.21},{"t":37.11,"v":2.18},{"t":37.26,"v":1.59},{"t":37.41,"v":1.22},{"t":37.51,"v":1.2},{"t":37.71,"v":1.5},{"t":37.95,"v":2.0},{"t":38.1,"v":2.32},{"t":38.27,"v":3.12},{"t":38.37,"v":1.63},{"t":38.55,"v":2.5},{"t":38.7,"v":3.17},{"t":38.85,"v":2.96},{"t":39.0,"v":2.48},{"t":39.1,"v":2.83},{"t":39.2,"v":2.83},{"t":39.3,"v":2.55},{"t":39.45,"v":2.48},{"t":39.55,"v":1.96},{"t":39.68,"v":1.47},{"t":39.85,"v":1.52},{"t":40.0,"v":1.57},{"t":40.17,"v":1.77},{"t":40.3,"v":2.0},{"t":40.4,"v":2.5},{"t":40.48,"v":3.1},{"t":40.55,"v":0.1},{"t":40.75,"v":0.17},{"t":40.9,"v":2.14},{"t":41.1,"v":2.78},{"t":41.25,"v":2.37},{"t":41.4,"v":2.12},{"t":41.5,"v":2.14},{"t":41.7,"v":2.57},{"t":41.85,"v":2.53},{"t":42.03,"v":2.51},{"t":42.18,"v":2.83},{"t":42.35,"v":2.83},{"t":42.5,"v":2.71},{"t":42.65,"v":2.46},{"t":42.8,"v":1.77},{"t":42.95,"v":1.18},{"t":43.1,"v":1.11},{"t":43.2,"v":1.22},{"t":43.33,"v":1.15},{"t":43.5,"v":1.41},{"t":43.67,"v":1.5},{"t":43.77,"v":1.54},{"t":43.9,"v":2.23},{"t":44.0,"v":2.1},{"t":44.08,"v":1.73},{"t":44.14,"v":1.45},{"t":44.26,"v":1.36},{"t":44.39,"v":1.61},{"t":44.54,"v":1.5},{"t":44.64,"v":1.41},{"t":44.79,"v":1.77},{"t":44.94,"v":1.96},{"t":45.09,"v":2.06},{"t":45.29,"v":2.08},{"t":45.39,"v":2.18},{"t":45.54,"v":2.12},{"t":45.69,"v":1.91},{"t":45.84,"v":1.59},{"t":45.99,"v":1.48},{"t":46.14,"v":1.38},{"t":46.29,"v":1.29},{"t":46.46,"v":1.45},{"t":46.64,"v":1.91},{"t":46.79,"v":1.96},{"t":46.94,"v":1.8},{"t":47.09,"v":1.61},{"t":47.24,"v":1.61},{"t":47.34,"v":1.73},{"t":47.44,"v":1.75},{"t":47.59,"v":2.32},{"t":47.72,"v":2.57},{"t":47.82,"v":2.53},{"t":47.94,"v":1.96},{"t":48.09,"v":1.68},{"t":48.21,"v":1.36},{"t":48.34,"v":1.45},{"t":48.49,"v":1.54},{"t":48.64,"v":1.13},{"t":48.79,"v":0.67},{"t":48.94,"v":0.35},{"t":49.09,"v":0.19},{"t":49.24,"v":0.49},{"t":49.39,"v":0.76},{"t":49.52,"v":0.9},{"t":49.64,"v":0.88},{"t":49.79,"v":0.99},{"t":49.91,"v":1.2}],
"ticks":[{"t":0},{"t":5},{"t":10},{"t":15},{"t":20},{"t":25},{"t":30},{"t":35},{"t":40},{"t":45},{"t":50}]
},
"layer":[
{"data":{"name":"ticks"},"mark":{"type":"rule","color":"#000000","strokeWidth":1.5},
 "encoding":{
  "x":{"field":"t","type":"quantitative","scale":{"domain":[0,50],"nice":false,"zero":false},
   "axis":{"values":[0,5,10,15,20,25,30,35,40,45,50],"format":"d","grid":false,"ticks":false,"tickSize":0,"domain":false,"labelFont":"Liberation Serif","labelFontSize":40,"labelColor":"#000000","labelBaseline":"alphabetic","labelPadding":-73,"labelFlush":false,"labelOverlap":false,"title":"time (sec.)","titleFont":"Liberation Serif","titleFontSize":40,"titleFontWeight":"normal","titleColor":"#000000","titleX":834,"titleY":53,"titleAlign":"center","titleBaseline":"middle"}},
  "y":{"datum":0,"type":"quantitative","scale":{"domain":[-2,4],"nice":false,"zero":false},
   "axis":{"values":[-2,-1,0,1,2,3,4],"format":"d","grid":true,"gridColor":{"condition":{"test":"datum.value <= 0 && datum.value > -2","value":"#000000"},"value":"#3c3c3c"},"gridWidth":1.2,"ticks":false,"tickSize":0,"domain":true,"domainColor":"#303030","domainWidth":2,"labelFont":"Liberation Serif","labelFontSize":40,"labelColor":"#000000","labelPadding":37,"labelBaseline":"middle","labelOffset":4,"title":"phase (rad.","titleFont":"Liberation Serif","titleFontSize":38,"titleFontWeight":"normal","titleColor":"#000000","titleX":-97,"titleY":282,"titleAngle":-90,"titleAlign":"center","titleBaseline":"middle"}},
  "y2":{"datum":0.18}}},
{"data":{"name":"a"},"mark":{"type":"line","strokeWidth":3,"clip":true},
 "encoding":{"x":{"field":"t","type":"quantitative"},"y":{"field":"v","type":"quantitative"},
  "color":{"datum":"ch1 (FT peak period)","type":"nominal",
   "scale":{"domain":["ch1 (FT peak period)","ch1 (fixed period)","ch2 (FT peak period)","ch2 (fixed period)"],"range":["#FF00FF","#FFFF00","#0000FF","#00CCFF"]},
   "legend":{"title":null,"orient":"none","legendX":37,"legendY":-79,"direction":"horizontal","labelFont":"Liberation Serif","labelFontSize":40,"labelColor":"#000000","labelLimit":600,"symbolType":"stroke","symbolSize":1681,"symbolStrokeWidth":4,"labelOffset":9,"columnPadding":14,"padding":8,"strokeColor":"#000000","fillColor":"#FFFFFF"}}}},
{"data":{"name":"b"},"mark":{"type":"line","strokeWidth":3,"clip":true},
 "encoding":{"x":{"field":"t","type":"quantitative"},"y":{"field":"v","type":"quantitative"},"color":{"datum":"ch1 (fixed period)","type":"nominal"}}},
{"data":{"name":"c"},"mark":{"type":"line","strokeWidth":3,"clip":true},
 "encoding":{"x":{"field":"t","type":"quantitative"},"y":{"field":"v","type":"quantitative"},"color":{"datum":"ch2 (FT peak period)","type":"nominal"}}},
{"data":{"name":"d"},"mark":{"type":"line","strokeWidth":3,"clip":true},
 "encoding":{"x":{"field":"t","type":"quantitative"},"y":{"field":"v","type":"quantitative"},"color":{"datum":"ch2 (fixed period)","type":"nominal"}}}
]
}
